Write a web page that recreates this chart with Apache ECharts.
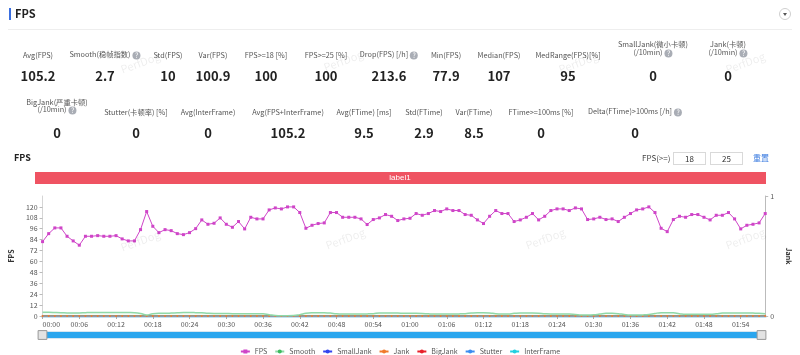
<!DOCTYPE html>
<html>
<head>
<meta charset="utf-8">
<script src="https://cdn.jsdelivr.net/npm/echarts@6/dist/echarts.min.js"></script>
<style>
body{margin:0;width:800px;height:355px;overflow:hidden;background:#fff;font-family:'Noto Sans CJK SC','Noto Sans',sans-serif;}
#chart{position:absolute;left:0;top:0;width:800px;height:355px;}
.abs{position:absolute;white-space:nowrap;}
.lab{font-size:7.3px;color:#555;transform:translate(-50%,-50%);text-align:center;line-height:8px;}
.val{font-size:13px;font-weight:bold;color:#222;transform:translate(-50%,-50%);line-height:14px;}
.q{display:inline-block;width:8px;height:8px;border-radius:50%;background:#a9adb5;color:#fff;font-size:7px;line-height:8px;text-align:center;vertical-align:middle;margin-left:2px;}
.box{border:1px solid #d9d9d9;font-size:8px;color:#333;text-align:center;line-height:11px;height:11px;}
</style>
</head>
<body>
<div id="chart"></div>
<script>
// ---------- data ----------
const statLabels1 = ['Avg(FPS)', 'Smooth(稳帧指数)', 'Std(FPS)', 'Var(FPS)', 'FPS>=18 [%]', 'FPS>=25 [%]', 'Drop(FPS) [/h]', 'Min(FPS)', 'Median(FPS)', 'MedRange(FPS)[%]', 'SmallJank(微小卡顿)|(/10min)', 'Jank(卡顿)|(/10min)'];
const statValues1 = ['105.2', '2.7', '10', '100.9', '100', '100', '213.6', '77.9', '107', '95', '0', '0'];
const statHelp1 = [false, true, false, false, false, false, true, false, false, false, true, true];
const statLabels2 = ['BigJank(严重卡顿)|(/10min)', 'Stutter(卡顿率) [%]', 'Avg(InterFrame)', 'Avg(FPS+InterFrame)', 'Avg(FTime) [ms]', 'Std(FTime)', 'Var(FTime)', 'FTime>=100ms [%]', 'Delta(FTime)>100ms [/h]'];
const statValues2 = ['0', '0', '0', '105.2', '9.5', '2.9', '8.5', '0', '0'];
const statHelp2 = [true, false, false, false, false, false, false, false, true];

const fpsValues = [
  81.8, 90.6, 96.9, 96.9, 87.7, 82.6, 77.9, 87.7, 87.7, 88.4, 87.7, 87.7, 88.4, 84.8, 82.6, 82.6, 95.0, 114.9, 98.7, 91.7,
  95.0, 93.9, 90.6, 89.5, 91.7, 96.1, 105.7, 100.9, 102.0, 107.9,
  100.9, 97.6, 103.9, 95.8, 108.6, 106.8, 106.8, 116.7, 118.9, 117.8, 120.0, 120.0, 113.8, 96.5, 99.8, 101.7, 102.4, 113.8, 113.8, 108.6,
  108.6, 108.6, 106.8, 100.6, 106.1, 107.9, 111.6, 109.7, 105.0, 106.8,
  107.5, 112.7, 110.8, 112.7, 116.0, 114.9, 117.8, 116.0, 116.0, 111.6, 110.8, 105.7, 101.7, 109.7, 116.0, 112.7, 112.7, 103.9, 105.7, 108.6,
  112.7, 105.7, 109.7, 116.0, 117.8, 117.8, 116.0, 118.9, 117.8,
  106.1, 106.8, 108.6, 106.1, 106.8, 103.9, 108.6, 112.7, 116.7, 117.8, 120.0, 113.8, 96.5, 92.8, 106.1, 109.7, 108.6, 111.6, 111.6, 108.6,
  105.7, 110.8, 110.8, 113.8, 106.8, 95.8, 99.8, 100.9, 102.4, 112.7
];
const smoothValues = [
  4.0, 4.0, 3.9, 3.7, 3.3, 3.2, 3.3, 3.7, 3.9, 3.9, 3.9, 3.9, 3.9, 3.9, 3.8, 3.6, 2.8, 1.1, 2.6, 3.0,
  3.0, 3.2, 3.6, 3.8, 3.8, 3.7, 3.5, 3.0, 2.8, 2.8,
  2.7, 2.6, 2.6, 2.6, 2.6, 2.6, 2.4, 1.5, 0.6, 0.4, 0.4, 0.5, 1.5, 3.0, 3.6, 3.7, 3.6, 3.2, 2.4, 2.2,
  2.2, 2.2, 2.2, 2.3, 2.6, 3.2, 3.3, 3.3, 3.2, 3.0,
  2.9, 2.9, 2.8, 2.4, 2.2, 2.2, 2.2, 2.2, 2.3, 2.6, 3.2, 3.6, 3.7, 3.4, 2.5, 2.2, 2.3, 2.9, 3.3, 3.3,
  3.3, 3.1, 2.5, 2.2, 2.2, 2.2, 2.1, 1.6, 1.1,
  1.1, 1.3, 2.2, 2.9, 2.9, 2.6, 1.6, 1.1, 1.1, 1.2, 1.6, 2.8, 3.6, 3.7, 3.5, 2.6, 1.9, 1.8, 1.8, 1.8,
  1.9, 2.4, 3.2, 3.4, 3.3, 3.3, 3.3, 3.2, 3.0, 2.4
];
const zeroCounts = [
  0,0,0,0,0,0,0,0,0,0,0,0,0,0,0,0,0,0,0,0,
  0,0,0,0,0,0,0,0,0,0,0,0,0,0,0,0,0,0,0,0,
  0,0,0,0,0,0,0,0,0,0,0,0,0,0,0,0,0,0,0,0,
  0,0,0,0,0,0,0,0,0,0,0,0,0,0,0,0,0,0,0,0,
  0,0,0,0,0,0,0,0,0,0,0,0,0,0,0,0,0,0,0,0,
  0,0,0,0,0,0,0,0,0,0,0,0,0,0,0,0,0,0,0
];
const smallJankValues = zeroCounts;
const jankValues = zeroCounts;
const bigJankValues = zeroCounts;
const stutterValues = zeroCounts;
const interFrameValues = zeroCounts;
const fpsTicks = [0, 12, 24, 36, 48, 60, 72, 84, 96, 108, 120];
const timeLabels = [];
for (let s = 0; s < fpsValues.length; s++) {
  timeLabels.push(String(Math.floor(s / 60)).padStart(2, '0') + ':' + String(s % 60).padStart(2, '0'));
}

// ---------- HTML header & stats ----------
const row1X = [38, 105, 168, 213, 266, 326, 389, 446, 499, 568, 653, 728];
const row2X = [57, 136, 208, 288, 364, 424, 474, 541, 635];
function addEl(cls, html, x, y, extra) {
  const d = document.createElement('div');
  d.className = 'abs ' + cls;
  d.innerHTML = html;
  d.style.left = x + 'px';
  d.style.top = y + 'px';
  if (extra) Object.assign(d.style, extra);
  document.body.appendChild(d);
  return d;
}
function esc(t){return t.replace(/&/g,'&amp;').replace(/</g,'&lt;').replace(/>/g,'&gt;');}
function addStats(labels, values, help, xs, labY, twoY1, twoY2, valY) {
  labels.forEach((l, i) => {
    const q = help[i] ? '<span class="q">?</span>' : '';
    if (l.indexOf('|') >= 0) {
      const parts = l.split('|');
      addEl('lab', esc(parts[0]), xs[i], twoY1);
      addEl('lab', esc(parts[1]) + q, xs[i], twoY2);
    } else {
      addEl('lab', esc(l) + q, xs[i], labY);
    }
    addEl('val', values[i], xs[i], valY);
  });
}
addStats(statLabels1, statValues1, statHelp1, row1X, 55, 44, 53, 76);
addStats(statLabels2, statValues2, statHelp2, row2X, 112, 102, 110, 133);

// header
addEl('', '', 9, 8, {width:'2px', height:'12px', background:'#3b6fe0'});
addEl('', 'FPS', 15, 6, {fontSize:'11px', fontWeight:'bold', color:'#222', lineHeight:'14px'});
addEl('', '', 8, 29, {width:'784px', height:'1px', background:'#eeeeee'});
addEl('', '', 779, 8, {width:'12px', height:'12px', borderRadius:'50%', border:'1px solid #cfcfcf', boxSizing:'border-box'});
addEl('', '', 782.5, 13, {width:'0', height:'0', borderLeft:'2.5px solid transparent', borderRight:'2.5px solid transparent', borderTop:'3px solid #555'});
// chart section header
addEl('', 'FPS', 14, 152, {fontSize:'9px', fontWeight:'bold', color:'#222', lineHeight:'11px'});
addEl('', 'FPS(>=)', 642, 152, {fontSize:'8px', color:'#444', lineHeight:'11px'});
addEl('box', '18', 673, 152, {width:'31px'});
addEl('box', '25', 710, 152, {width:'31px'});
addEl('', '重置', 753, 152, {fontSize:'8px', color:'#3a7be0', lineHeight:'11px'});
// watermarks
[[140, 62], [343, 60], [578, 62], [745, 62], [140, 240], [345, 238], [545, 238], [745, 238]].forEach(p => {
  addEl('', 'PerfDog', p[0], p[1], {fontSize:'11px', color:'rgba(0,0,0,0.07)', transform:'translate(-50%,-50%) rotate(-20deg)', pointerEvents:'none'});
});

// ---------- chart ----------
const chart = echarts.init(document.getElementById('chart'), null, {renderer: 'canvas'});
const colors = {FPS:'#cf45c8', Smooth:'#3dbb5e', SmallJank:'#3344ee', Jank:'#f07a2c', BigJank:'#e8202a', Stutter:'#3a8cf0', InterFrame:'#22d0e0'};
function zeroSeries(name, data, sym) {
  return {name, type:'line', yAxisIndex: name === 'InterFrame' ? 0 : 1, data,
    symbol: sym ? 'circle' : 'none', symbolSize: 2, showSymbol: !!sym,
    lineStyle:{width:1, color: colors[name]}, itemStyle:{color: colors[name]}, silent:true, z: 3};
}
chart.setOption({
  animation: false,
  textStyle: {fontFamily: "'Noto Sans CJK SC','Noto Sans',sans-serif"},
  grid: {left: 35, right: 34, top: 196, bottom: 39},
  graphic: [
    {type:'rect', shape:{x:35, y:172, width:731, height:12}, style:{fill:'#ef5362'}, z: 1},
    {type:'text', x:400, y:178, style:{text:'label1', fill:'#fff', fontSize:8, align:'center', verticalAlign:'middle'}, z: 2}
  ],
  legend: {
    top: 343, left: 'center', itemWidth: 9, itemHeight: 5, itemGap: 7,
    textStyle: {fontSize: 7, color: '#555'},
    data: ['FPS', 'Smooth', 'SmallJank', 'Jank', 'BigJank', 'Stutter', 'InterFrame']
  },
  xAxis: {
    type: 'category', data: timeLabels, boundaryGap: false,
    axisLine: {lineStyle: {color: '#c3e2f1', width: 3}},
    axisTick: {show: true, interval: 5, length: 3, lineStyle: {color: '#aaa'}},
    axisLabel: {interval: 5, fontSize: 7, color: '#555', margin: 5, alignMinLabel: 'left'},
    splitLine: {show: false}
  },
  yAxis: [
    {type: 'value', min: 0, max: 132, interval: 12, name: 'FPS', nameLocation: 'middle', nameGap: 22, nameRotate: 90,
      nameTextStyle: {fontSize: 7, fontWeight: 'bold', color: '#333'},
      axisLine: {show: true, lineStyle: {color: '#d5d5d5'}},
      axisTick: {show: true, length: 3, lineStyle: {color: '#bbb'}},
      axisLabel: {fontSize: 7, color: '#555', margin: 5, showMaxLabel: false,
        formatter: v => fpsTicks.indexOf(v) >= 0 ? String(v) : ''},
      splitLine: {show: false}},
    {type: 'value', min: 0, max: 1, interval: 1, name: 'Jank', nameLocation: 'middle', nameGap: 10, nameRotate: -90,
      nameTextStyle: {fontSize: 7, fontWeight: 'bold', color: '#333'},
      axisLine: {show: true, lineStyle: {color: '#bbb'}},
      axisTick: {show: true, length: 3, lineStyle: {color: '#bbb'}},
      axisLabel: {fontSize: 7, color: '#555', margin: 5},
      splitLine: {show: false}}
  ],
  dataZoom: [{
    type: 'slider', xAxisIndex: 0, start: 0, end: 100, left: 40, right: 39, top: 331, height: 8,
    brushSelect: false, showDetail: false, showDataShadow: false,
    backgroundColor: '#eef6fc', borderColor: '#d8e6f0', fillerColor: '#2ba6ee',
    handleIcon: 'path://M0,0 L10,0 L10,10 L0,10 Z', handleSize: '110%',
    handleStyle: {color: '#e3e3e3', borderColor: '#999', borderWidth: 1},
    moveHandleSize: 0, textStyle: {fontSize: 0}
  }],
  series: [
    {name:'FPS', type:'line', data: fpsValues, symbol:'rect', symbolSize: 3, showSymbol: true,
      lineStyle:{width: 1, color: colors.FPS}, itemStyle:{color: colors.FPS}, z: 5},
    {name:'Smooth', type:'line', data: smoothValues, smooth: true, symbol:'none',
      lineStyle:{width: 1.5, color: '#8fd9a8'}, itemStyle:{color: colors.Smooth},
      areaStyle:{color:'rgba(143,217,168,0.12)'}, z: 4},
    zeroSeries('SmallJank', smallJankValues, false),
    zeroSeries('BigJank', bigJankValues, false),
    zeroSeries('Stutter', stutterValues, false),
    zeroSeries('InterFrame', interFrameValues, false),
    zeroSeries('Jank', jankValues, true)
  ]
});
</script>
</body>
</html>
